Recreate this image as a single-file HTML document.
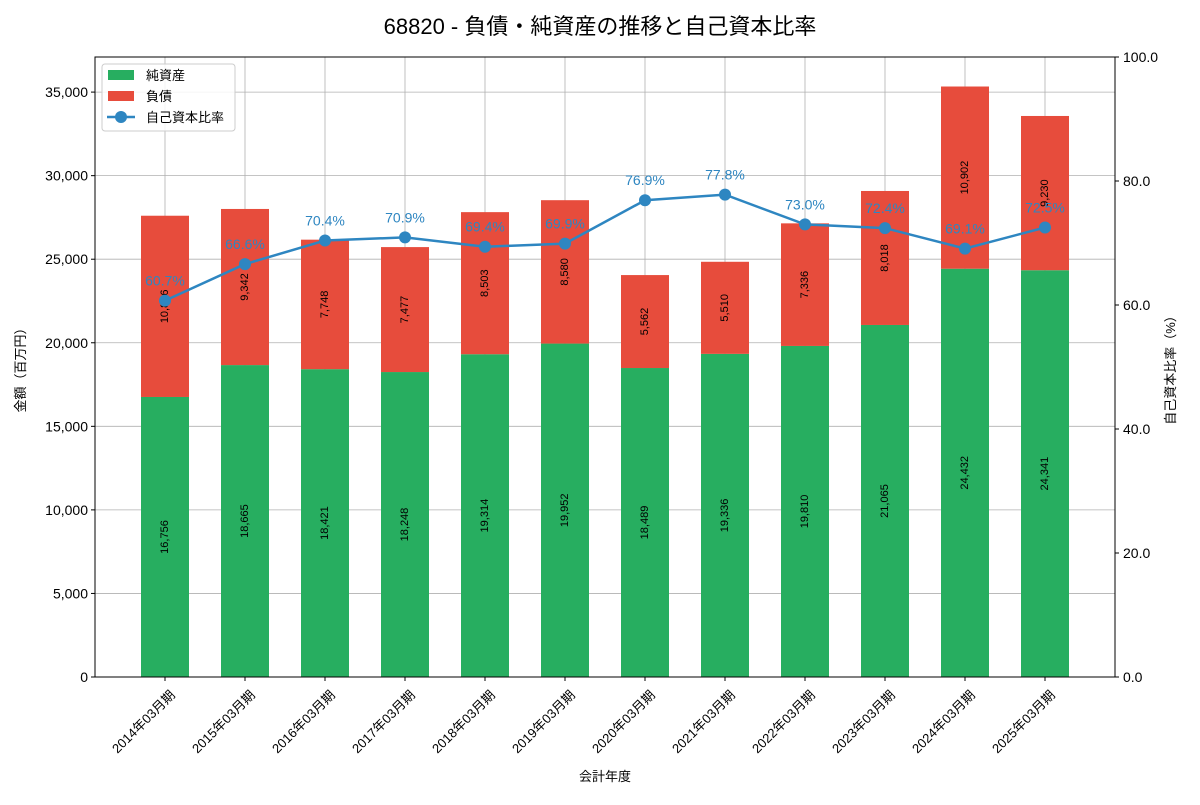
<!DOCTYPE html>
<html><head><meta charset="utf-8">
<style>
body{margin:0;background:#fff;}
svg{font-family:"Liberation Sans","Noto Sans CJK JP",sans-serif;}
</style></head>
<body>
<svg id="chart" width="1200" height="800"></svg>
<script>
const categories=["2014年03月期","2015年03月期","2016年03月期","2017年03月期","2018年03月期","2019年03月期","2020年03月期","2021年03月期","2022年03月期","2023年03月期","2024年03月期","2025年03月期"];
const equity=[16756,18665,18421,18248,19314,19952,18489,19336,19810,21065,24432,24341];
const liabilities=[10846,9342,7748,7477,8503,8580,5562,5510,7336,8018,10902,9230];
const ratio=[60.7,66.6,70.4,70.9,69.4,69.9,76.9,77.8,73.0,72.4,69.1,72.5];
const leftTicks=[0,5000,10000,15000,20000,25000,30000,35000];
const rightTicks=[0,20,40,60,80,100];

const NS="http://www.w3.org/2000/svg";
const svg=document.getElementById('chart');
const L=95,R=1115,T=57,B=677,LMAX=37100;
function y1(v){return B-(v/LMAX)*(B-T);}
function y2(v){return B-(v/100)*(B-T);}
const pad=0.875;
const step=(R-L)/(categories.length-1+2*pad);
function xc(i){return L+step*(i+pad);}
function el(tag,attrs,name,text){const e=document.createElementNS(NS,tag);for(const k in attrs)e.setAttribute(k,attrs[k]);


if(text!==undefined)e.textContent=text;svg.appendChild(e);return e;}
function fmt(v){return v.toLocaleString('en-US');}

el('text',{x:600,y:34,'text-anchor':'middle','font-size':22,fill:'#000'},'chart-title','68820 - 負債・純資産の推移と自己資本比率');
leftTicks.forEach(t=>{el('line',{x1:L,x2:R,y1:y1(t),y2:y1(t),stroke:'#b0b0b0','stroke-width':0.8},'grid-line-h');});
categories.forEach((c,i)=>{el('line',{x1:xc(i),x2:xc(i),y1:T,y2:B,stroke:'#b0b0b0','stroke-width':0.8},'grid-line-v');});
const bw=step*0.6;
categories.forEach((c,i)=>{
  const x=xc(i)-bw/2;
  el('rect',{x:x,y:y1(equity[i]),width:bw,height:B-y1(equity[i]),fill:'#27ae60'},'bar-equity');
  el('rect',{x:x,y:y1(equity[i]+liabilities[i]),width:bw,height:y1(equity[i])-y1(equity[i]+liabilities[i]),fill:'#e74c3c'},'bar-liabilities');
  const ye=(B+y1(equity[i]))/2, yl=(y1(equity[i])+y1(equity[i]+liabilities[i]))/2;
  el('text',{x:xc(i),y:ye,'font-size':11,'text-anchor':'middle','dominant-baseline':'middle',transform:`rotate(-90 ${xc(i)} ${ye})`},'equity-value-label',fmt(equity[i]));
  el('text',{x:xc(i),y:yl,'font-size':11,'text-anchor':'middle','dominant-baseline':'middle',transform:`rotate(-90 ${xc(i)} ${yl})`},'liabilities-value-label',fmt(liabilities[i]));
});
el('polyline',{points:ratio.map((r,i)=>xc(i)+','+y2(r)).join(' '),fill:'none',stroke:'#2e86c1','stroke-width':2.5},'ratio-line');
ratio.forEach((r,i)=>{
  el('circle',{cx:xc(i),cy:y2(r),r:6,fill:'#2e86c1'},'ratio-point');
  el('text',{x:xc(i),y:y2(r)-15,'font-size':14,'text-anchor':'middle',fill:'#2e86c1'},'ratio-label',r.toFixed(1)+'%');
});
el('rect',{x:L,y:T,width:R-L,height:B-T,fill:'none',stroke:'#000','stroke-width':1},'plot-frame');
leftTicks.forEach(t=>{el('line',{x1:L-4,x2:L,y1:y1(t),y2:y1(t),stroke:'#000'},'y-tick');
el('text',{x:L-7,y:y1(t)+5,'font-size':14,'text-anchor':'end'},'y-tick-label',fmt(t));});
rightTicks.forEach(t=>{el('line',{x1:R,x2:R+4,y1:y2(t),y2:y2(t),stroke:'#000'},'y2-tick');
el('text',{x:R+8,y:y2(t)+5,'font-size':14,'text-anchor':'start'},'y2-tick-label',t.toFixed(1));});
categories.forEach((c,i)=>{el('line',{x1:xc(i),x2:xc(i),y1:B,y2:B+4,stroke:'#000'},'x-tick');
const tx=xc(i)+4,ty=B+12;
el('text',{x:tx,y:ty,'font-size':13,'text-anchor':'end','dominant-baseline':'hanging',transform:`rotate(-45 ${tx} ${ty})`},'x-tick-label',c);});
el('text',{x:605,y:781,'font-size':13,'text-anchor':'middle'},'x-axis-title','会計年度');
el('text',{x:25,y:367,'font-size':13,'text-anchor':'middle',transform:'rotate(-90 25 367)'},'y-axis-title','金額（百万円）');
el('text',{x:1175,y:367,'font-size':13,'text-anchor':'middle',transform:'rotate(-90 1175 367)'},'y2-axis-title','自己資本比率（%）');
el('rect',{x:102,y:64,width:133,height:67,fill:'#fff','fill-opacity':0.85,stroke:'#ccc',rx:3},'legend-box');
el('rect',{x:108,y:70,width:26,height:10,fill:'#27ae60'},'legend-swatch-equity');
el('text',{x:146,y:80,'font-size':13},'legend-label-equity','純資産');
el('rect',{x:108,y:91,width:26,height:10,fill:'#e74c3c'},'legend-swatch-liabilities');
el('text',{x:146,y:101,'font-size':13},'legend-label-liabilities','負債');
el('line',{x1:107,x2:135,y1:117,y2:117,stroke:'#2e86c1','stroke-width':2.5},'legend-swatch-ratio-line');
el('circle',{cx:121,cy:117,r:6,fill:'#2e86c1'},'legend-swatch-ratio-marker');
el('text',{x:146,y:122,'font-size':13},'legend-label-ratio','自己資本比率');
</script>
</body></html>
